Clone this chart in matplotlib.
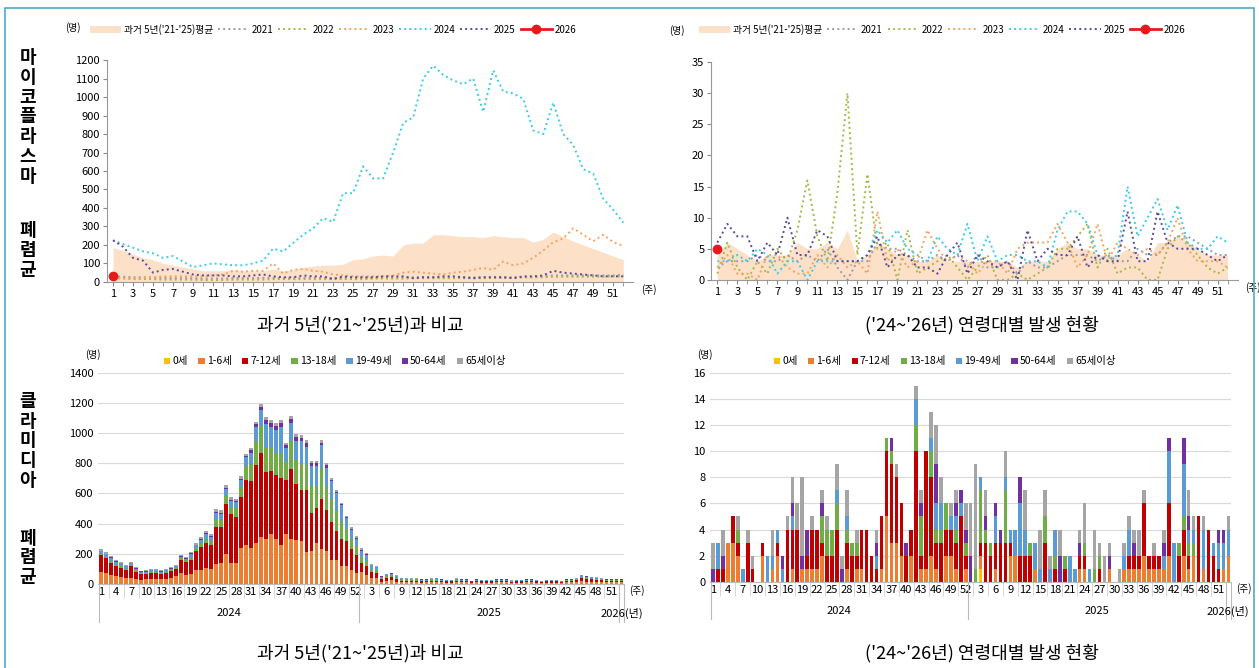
import numpy as np
import matplotlib.pyplot as plt
from matplotlib.patches import Rectangle
from matplotlib.lines import Line2D
import matplotlib.transforms as mtrans

plt.rcParams['font.family'] = ['Noto Sans CJK KR', 'DejaVu Sans']

weeks = np.arange(1, 53)

# ---- 마이코플라스마: 과거 5년 비교 ----
myco_avg = [185, 170, 150, 130, 120, 100, 90, 80, 70, 60, 60, 60, 65, 60, 60, 60, 70, 60, 65, 80,
            85, 90, 90, 95, 120, 125, 140, 145, 140, 200, 210, 210, 255, 255, 250, 245, 245, 240, 250, 245,
            240, 240, 215, 230, 270, 245, 220, 200, 180, 160, 140, 120]
myco_2021 = [30, 28, 25, 25, 22, 22, 20, 20, 20, 18, 18, 18, 20, 20, 20, 22, 22, 20, 20, 22,
             22, 22, 20, 22, 22, 22, 22, 25, 25, 25, 25, 25, 25, 25, 25, 25, 25, 25, 25, 25,
             25, 25, 28, 30, 35, 35, 35, 35, 35, 35, 35, 40]
myco_2022 = [20, 18, 15, 15, 15, 12, 12, 12, 12, 10, 10, 10, 12, 12, 12, 12, 15, 15, 15, 15,
             15, 15, 15, 15, 15, 15, 18, 18, 18, 18, 20, 20, 20, 20, 20, 20, 20, 20, 22, 22,
             22, 25, 25, 25, 28, 28, 28, 28, 28, 28, 30, 30]
myco_2023 = [20, 20, 20, 25, 25, 30, 30, 30, 30, 30, 35, 40, 60, 55, 60, 60, 100, 45, 65, 70,
             60, 55, 40, 35, 30, 30, 30, 30, 35, 50, 55, 50, 45, 40, 50, 55, 65, 75, 65, 110,
             90, 100, 130, 170, 215, 235, 290, 255, 220, 255, 215, 195]
myco_2024 = [225, 205, 185, 165, 155, 130, 140, 110, 80, 90, 100, 95, 90, 90, 100, 115, 180, 165, 210, 255,
             290, 345, 325, 480, 480, 625, 560, 560, 700, 860, 890, 1100, 1170, 1120, 1090, 1070, 1100, 920, 1145, 1030,
             1020, 990, 820, 800, 970, 800, 740, 610, 585, 450, 390, 320]
myco_2025 = [225, 190, 130, 115, 50, 65, 70, 55, 40, 35, 35, 35, 30, 30, 35, 40, 30, 25, 25, 35,
             30, 30, 15, 30, 25, 25, 25, 30, 30, 30, 20, 25, 25, 30, 30, 25, 20, 25, 25, 25,
             20, 30, 30, 35, 60, 50, 45, 40, 35, 30, 30, 30]
myco_2026 = [30]

# ---- 클라미디아: 과거 5년 비교 ----
chla_avg = [4, 6, 5, 4, 3, 4, 4, 4, 6, 5, 5, 6, 5, 8, 3, 4, 6, 5, 4, 4,
            3, 3, 4, 3, 3, 3, 3, 3, 3, 3, 2, 3, 3, 3, 5, 6, 5, 5, 4, 4,
            4, 5, 4, 3, 6, 6, 7, 6, 5, 4, 4, 4]
chla_2021 = [2, 3, 3, 3, 4, 3, 3, 4, 3, 4, 3, 5, 2, 0, 3, 3, 6, 5, 5, 4,
             3, 3, 4, 3, 4, 2, 4, 2, 2, 3, 1, 3, 2, 2, 3, 4, 4, 4, 3, 4,
             3, 3, 5, 4, 4, 6, 7, 7, 6, 5, 4, 4]
chla_2022 = [1, 6, 2, 0, 3, 1, 5, 3, 8, 16, 7, 3, 14, 30, 4, 17, 5, 6, 0, 8,
             1, 2, 3, 4, 2, 0, 2, 4, 0, 0, 1, 0, 1, 2, 5, 5, 7, 9, 2, 5,
             1, 2, 2, 0, 0, 5, 7, 6, 4, 2, 1, 2]
chla_2023 = [2, 4, 1, 1, 0, 4, 4, 2, 1, 1, 4, 2, 4, 2, 3, 1, 11, 3, 5, 2,
             3, 8, 5, 3, 4, 3, 1, 3, 3, 1, 5, 6, 6, 6, 9, 6, 2, 4, 9, 3,
             6, 5, 4, 5, 4, 6, 10, 5, 3, 3, 3, 2]
chla_2024 = [3, 3, 4, 3, 5, 4, 1, 3, 3, 0, 3, 3, 3, 3, 3, 4, 8, 6, 8, 5,
             4, 3, 7, 5, 4, 9, 3, 7, 3, 4, 4, 3, 3, 2, 8, 11, 11, 9, 4, 3,
             4, 15, 7, 10, 13, 8, 12, 6, 5, 5, 7, 6]
chla_2025 = [6, 9, 7, 7, 3, 6, 4, 10, 4, 4, 8, 7, 3, 3, 3, 4, 7, 2, 4, 4,
             2, 2, 1, 4, 6, 1, 4, 3, 2, 3, 0, 8, 3, 5, 4, 4, 7, 2, 4, 3,
             3, 11, 3, 3, 11, 6, 5, 5, 5, 4, 3, 4]
chla_2026 = [5]

# ---- 연령대별 (2024 1주 ~ 2026 1주, 105주) ----
age_labels = ['0세', '1-6세', '7-12세', '13-18세', '19-49세', '50-64세', '65세이상']
age_colors = ['#ffc000', '#ed7d31', '#c00000', '#70ad47', '#5b9bd5', '#7030a0', '#a5a5a5']

m_0 = [0] * 105
m_1_6 = [80, 75, 60, 50, 45, 40, 40, 30, 25, 30, 35, 35, 30, 35, 40, 50, 70, 60, 65, 90,
         90, 105, 100, 130, 140, 200, 140, 135, 240, 260, 240, 270, 310, 300, 330, 300, 260, 330, 300, 290,
         285, 210, 220, 270, 230, 220, 160, 160, 115, 115, 90, 70,
         80, 60, 40, 40, 15, 20, 25, 15, 10, 10, 10, 10, 8, 10, 10, 12, 10, 8, 8, 10,
         10, 10, 5, 10, 8, 8, 8, 10, 10, 10, 6, 8, 8, 10, 10, 8, 6, 8, 8, 8,
         6, 10, 10, 12, 20, 15, 15, 15, 12, 10, 10, 10, 10]
m_7_12 = [110, 95, 80, 65, 60, 50, 75, 50, 40, 35, 40, 40, 35, 40, 45, 50, 90, 85, 90, 130,
          155, 165, 160, 250, 235, 330, 320, 305, 335, 430, 445, 520, 560, 440, 420, 420, 440, 360, 460, 370,
          340, 410, 250, 230, 330, 270, 250, 190, 185, 170, 140, 120,
          60, 55, 40, 35, 15, 20, 20, 15, 12, 10, 10, 10, 8, 8, 10, 10, 8, 8, 8, 10,
          8, 8, 5, 8, 8, 8, 8, 8, 8, 8, 6, 8, 8, 8, 8, 8, 6, 8, 8, 8,
          6, 10, 10, 12, 20, 18, 15, 12, 12, 10, 10, 10, 10]
m_13_18 = [10, 10, 10, 10, 10, 10, 10, 10, 5, 5, 5, 5, 5, 5, 5, 5, 10, 10, 15, 15,
           20, 30, 25, 50, 50, 60, 50, 60, 70, 90, 110, 160, 180, 170, 160, 150, 170, 120, 190, 160,
           170, 170, 180, 150, 210, 160, 150, 130, 120, 80, 70, 60,
           40, 35, 20, 15, 8, 10, 10, 10, 6, 5, 5, 5, 4, 4, 5, 6, 4, 3, 3, 5,
           4, 4, 2, 4, 3, 3, 3, 4, 4, 4, 3, 3, 3, 4, 4, 3, 3, 3, 3, 3,
           3, 4, 4, 4, 6, 6, 5, 5, 4, 4, 4, 4, 4]
m_19_49 = [15, 15, 20, 20, 20, 15, 10, 10, 8, 10, 10, 10, 10, 10, 10, 10, 10, 10, 30, 20,
           25, 30, 25, 40, 40, 40, 40, 40, 45, 60, 70, 90, 100, 150, 130, 150, 170, 90, 120, 130,
           150, 120, 130, 130, 150, 120, 120, 120, 100, 70, 60, 50,
           40, 40, 25, 20, 10, 12, 12, 12, 8, 7, 7, 7, 7, 6, 7, 8, 6, 4, 4, 7,
           6, 6, 2, 6, 4, 4, 4, 5, 5, 5, 4, 4, 4, 5, 5, 4, 3, 4, 4, 4,
           3, 4, 4, 5, 10, 8, 7, 6, 5, 4, 4, 4, 4]
m_50_64 = [5] * 20 + [8] * 10 + [20, 20, 22, 25, 25, 25, 25, 20, 25, 25, 25, 22, 20, 20, 15, 15, 10, 10, 8, 8, 6, 5] \
          + [5, 5, 3, 3, 2, 2, 2, 2, 2, 2] + [2] * 42 + [1]
m_65 = [10, 10, 8, 8, 8, 6, 6, 6, 5, 5, 5, 5, 5, 5, 5, 5, 8, 8, 8, 8,
        10, 10, 10, 15, 15, 15, 15, 15, 15, 15, 15, 15, 20, 20, 20, 20, 20, 15, 20, 20,
        20, 20, 15, 15, 20, 15, 15, 10, 10, 10, 10, 10,
        10, 10, 5, 5, 3, 3, 3, 3, 2, 2] + [2] * 42 + [1]

c_0 = [0] * 54 + [1] + [0] * 50
c_1_6 = [0, 0, 0, 3, 3, 2, 0, 0, 0, 0, 2, 0, 1, 2, 0, 0, 1, 0, 1, 1,
         1, 1, 2, 0, 0, 0, 0, 1, 0, 1, 1, 0, 0, 0, 1, 5, 3, 3, 2, 0,
         2, 0, 1, 1, 2, 1, 0, 2, 2, 1, 0, 1,
         0, 0, 1, 0, 0, 1, 0, 0, 2, 2, 0, 0, 0, 1, 0, 0, 0, 0, 0, 0,
         0, 0, 1, 1, 0, 0, 0, 0, 1, 0, 0, 1, 1, 1, 1, 2, 1, 1, 1, 1,
         2, 0, 0, 2, 1, 2, 0, 1, 0, 0, 0, 1, 2]
c_7_12 = [0, 1, 1, 0, 2, 1, 0, 3, 1, 0, 1, 0, 0, 1, 0, 4, 3, 4, 0, 1,
          3, 3, 1, 2, 2, 4, 0, 2, 2, 1, 3, 4, 2, 1, 4, 5, 6, 5, 4, 2,
          2, 10, 1, 9, 6, 2, 3, 2, 2, 2, 5, 1,
          0, 0, 1, 3, 2, 2, 3, 3, 1, 0, 2, 2, 2, 0, 0, 3, 0, 1, 0, 1,
          0, 0, 1, 1, 0, 0, 1, 0, 0, 0, 0, 0, 1, 1, 1, 4, 1, 1, 1, 0,
          4, 0, 2, 2, 1, 0, 5, 0, 4, 2, 1, 0, 0]
c_13_18 = [0, 0, 0, 0, 0, 1, 0, 0, 0, 0, 0, 0, 0, 0, 0, 0, 0, 0, 0, 0,
           0, 0, 2, 2, 2, 2, 0, 1, 1, 1, 0, 0, 0, 0, 0, 1, 1, 0, 0, 0,
           0, 2, 3, 0, 2, 1, 1, 2, 0, 1, 0, 1,
           0, 1, 4, 1, 1, 0, 0, 4, 0, 0, 0, 0, 1, 0, 0, 2, 0, 1, 0, 1,
           0, 0, 0, 1, 0, 1, 1, 0, 0, 0, 0, 0, 0, 0, 0, 0, 0, 0, 0, 0,
           0, 0, 1, 1, 1, 1, 0, 0, 0, 0, 0, 0, 0]
c_19_49 = [0, 2, 0, 0, 0, 0, 1, 0, 0, 0, 0, 2, 1, 1, 1, 0, 1, 0, 0, 0,
           0, 0, 0, 0, 0, 1, 0, 1, 0, 0, 0, 0, 0, 1, 0, 0, 0, 0, 0, 0,
           0, 2, 0, 0, 1, 2, 2, 0, 1, 1, 1, 0,
           0, 0, 1, 0, 0, 2, 0, 1, 1, 2, 4, 2, 0, 2, 1, 0, 1, 2, 0, 0,
           2, 1, 0, 0, 1, 0, 0, 0, 0, 0, 0, 1, 2, 0, 0, 0, 0, 0, 0, 1,
           4, 3, 0, 4, 1, 1, 0, 3, 0, 1, 2, 2, 2]
c_50_64 = [1, 0, 1, 0, 0, 0, 0, 0, 0, 0, 0, 0, 0, 0, 1, 0, 1, 0, 1, 2,
           0, 0, 1, 0, 0, 0, 1, 0, 0, 0, 0, 0, 0, 1, 0, 0, 1, 0, 0, 1,
           0, 0, 1, 0, 0, 3, 0, 0, 0, 1, 1, 1,
           2, 0, 0, 1, 0, 1, 1, 0, 0, 0, 2, 0, 0, 0, 0, 0, 0, 0, 2, 0,
           0, 0, 1, 0, 0, 0, 0, 0, 1, 0, 0, 0, 0, 1, 0, 0, 0, 0, 0, 1,
           1, 0, 0, 2, 1, 0, 0, 0, 0, 0, 1, 1, 0]
c_65 = [2, 0, 2, 0, 0, 1, 0, 1, 1, 0, 0, 0, 2, 0, 0, 1, 2, 2, 6, 0,
        1, 0, 1, 1, 0, 2, 1, 2, 0, 1, 0, 0, 0, 1, 0, 0, 0, 1, 0, 0,
        0, 1, 1, 0, 2, 3, 2, 0, 1, 1, 0, 2,
        4, 8, 0, 2, 0, 0, 0, 2, 0, 0, 0, 3, 0, 0, 3, 2, 1, 0, 2, 0,
        0, 0, 1, 3, 0, 3, 1, 2, 1, 0, 1, 1, 1, 1, 2, 1, 0, 1, 0, 1,
        0, 0, 0, 0, 2, 1, 0, 1, 0, 0, 0, 0, 1]

avg_label = "과거 5년('21-'25)평균"
year_colors = {'2021': '#9a9ab0', '2022': '#a4b84a', '2023': '#f4a460', '2024': '#3ccbe8', '2025': '#5b4a9b'}

fig = plt.figure(figsize=(12.59, 6.68), dpi=100)
fig.patches.append(Rectangle((0.004, -0.02), 0.992, 1.008, transform=fig.transFigure,
                             fill=False, edgecolor='#4bacc6', linewidth=1.2))


def line_panel(rect, avg, series, cur, ymax, ystep, leg_x):
    ax = fig.add_axes(rect)
    ax.fill_between(weeks, avg, color='#fde0c8', linewidth=0, label=avg_label)
    for yr, vals in series.items():
        ax.plot(weeks, vals, linestyle=':', linewidth=1.4, color=year_colors[yr], label=yr)
    ax.plot([1], cur, color='#e41a1c', marker='o', markersize=6, linewidth=2, label='2026')
    ax.set_xlim(0.4, 53)
    ax.set_ylim(0, ymax)
    ax.set_yticks(np.arange(0, ymax + 1, ystep))
    ax.set_xticks(np.arange(1, 53, 2))
    ax.set_xticks(np.arange(1, 53), minor=True)
    ax.tick_params(labelsize=8, length=3, color='#888888', pad=2)
    ax.tick_params(which='minor', length=3, color='#888888')
    for s in ['top', 'right']:
        ax.spines[s].set_visible(False)
    for s in ['left', 'bottom']:
        ax.spines[s].set_color('#999999')
    ax.text(-0.08, 1.13, '(명)', transform=ax.transAxes, fontsize=7)
    ax.text(1.015, -0.01, '(주)', transform=ax.transAxes, fontsize=7, va='top')
    h, l = ax.get_legend_handles_labels()
    fig.legend(h, l, loc='center left', bbox_to_anchor=(leg_x, 0.956), ncol=7, frameon=False,
               fontsize=7, handlelength=3.2, columnspacing=0.5, handletextpad=0.3, borderaxespad=0)
    return ax


line_panel([0.085, 0.578, 0.418, 0.332], myco_avg,
           {'2021': myco_2021, '2022': myco_2022, '2023': myco_2023, '2024': myco_2024, '2025': myco_2025},
           myco_2026, 1200, 100, 0.068)
line_panel([0.565, 0.581, 0.418, 0.326], chla_avg,
           {'2021': chla_2021, '2022': chla_2022, '2023': chla_2023, '2024': chla_2024, '2025': chla_2025},
           chla_2026, 35, 5, 0.552)


def bar_panel(rect, stacks, ymax, ystep):
    ax = fig.add_axes(rect)
    x = np.arange(len(stacks[0]))
    bottom = np.zeros(len(x))
    for vals, col, lab in zip(stacks, age_colors, age_labels):
        ax.bar(x, vals, bottom=bottom, width=0.72, color=col, label=lab, linewidth=0)
        bottom += np.array(vals)
    ax.set_xlim(-0.6, len(x) - 0.4)
    ax.set_ylim(0, ymax)
    ax.set_yticks(np.arange(0, ymax + 1, ystep))
    ax.yaxis.grid(True, color='#d9d9d9', linewidth=0.8)
    ax.set_axisbelow(True)
    for s in ['top', 'right', 'left']:
        ax.spines[s].set_visible(False)
    ax.spines['bottom'].set_color('#bbbbbb')
    ax.tick_params(axis='y', length=0, labelsize=8)
    pos, labs = [], []
    for i in range(len(x)):
        wk = i + 1 if i < 52 else (i - 51 if i < 104 else 1)
        if (i < 52 and i % 3 == 0) or (52 <= i < 104 and wk % 3 == 0):
            pos.append(i)
            labs.append(str(wk))
    ax.set_xticks(pos)
    ax.set_xticklabels(labs, fontsize=8)
    ax.set_xticks([p + 1.5 for p in pos] + [-0.5], minor=True)
    ax.tick_params(axis='x', which='major', length=0, pad=2)
    ax.tick_params(axis='x', which='minor', length=10, color='#d0d0d0')
    tr = mtrans.blended_transform_factory(ax.transData, ax.transAxes)
    for xb in [-0.5, 51.5, 103.5, 104.5]:
        ax.add_line(Line2D([xb, xb], [0, -0.18], transform=tr, color='#bbbbbb', linewidth=0.8, clip_on=False))
    ax.text(25.5, -0.14, '2024', transform=tr, fontsize=8, ha='center', va='center')
    ax.text(77.5, -0.14, '2025', transform=tr, fontsize=8, ha='center', va='center')
    ax.text(104, -0.14, '2026(년)', transform=tr, fontsize=8, ha='center', va='center')
    ax.text(len(x) + 0.5, -0.03, '(주)', transform=tr, fontsize=7, va='center')
    ax.text(-0.025, 1.07, '(명)', transform=ax.transAxes, fontsize=7)
    ax.legend(loc='lower center', bbox_to_anchor=(0.45, 1.0), ncol=7, frameon=False, fontsize=7.5,
              handlelength=0.6, handleheight=0.6, columnspacing=1.0, handletextpad=0.2, borderaxespad=0.2)
    return ax


bar_panel([0.078, 0.126, 0.418, 0.316], [m_0, m_1_6, m_7_12, m_13_18, m_19_49, m_50_64, m_65], 1400, 200)
bar_panel([0.564, 0.129, 0.414, 0.313], [c_0, c_1_6, c_7_12, c_13_18, c_19_49, c_50_64, c_65], 16, 2)

# 패널 제목
fig.text(0.286, 0.513, "과거 5년('21~'25년)과 비교", fontsize=13, ha='center', va='center')
fig.text(0.780, 0.513, "('24~'26년) 연령대별 발생 현황", fontsize=13, ha='center', va='center')
fig.text(0.286, 0.022, "과거 5년('21~'25년)과 비교", fontsize=13, ha='center', va='center')
fig.text(0.780, 0.022, "('24~'26년) 연령대별 발생 현황", fontsize=13, ha='center', va='center')

# 왼쪽 세로 제목
vkw = dict(fontsize=13, fontweight='bold', ha='center', va='center', linespacing=1.05)
fig.text(0.022, 0.825, '\n'.join('마이코플라스마'), **vkw)
fig.text(0.022, 0.625, '\n'.join('폐렴균'), **vkw)
fig.text(0.022, 0.34, '\n'.join('클라미디아'), **vkw)
fig.text(0.022, 0.165, '\n'.join('폐렴균'), **vkw)

fig.savefig('out.png', dpi=100)
